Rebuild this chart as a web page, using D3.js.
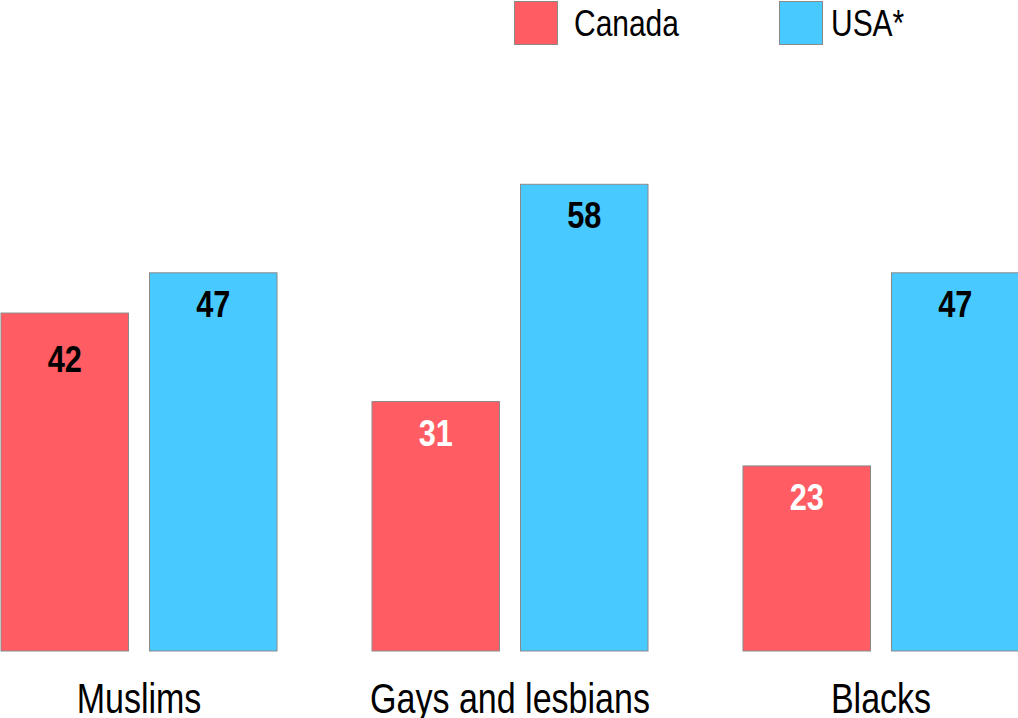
<!DOCTYPE html>
<html>
<head>
<meta charset="utf-8">
<script src="https://cdn.jsdelivr.net/npm/d3@7"></script>
<style>
  body { margin: 0; background: #fff; }
  text { font-family: "Liberation Sans", Arial, sans-serif; }
</style>
</head>
<body>
<div id="chart"></div>
<script>
// data
const groups = ["Muslims", "Gays and lesbians", "Blacks"];
const series = ["Canada", "USA*"];
const canada = [42, 31, 23];
const usa = [47, 58, 47];
const colors = ["#ff5c63", "#48c9ff"];
const labelColors = [["#000", "#fff", "#fff"], ["#000", "#000", "#000"]];

const width = 1018;
const height = 718;
// the original uses a narrow face, so squeeze the text horizontally
const squeeze = 0.81;

const svg = d3.select("#chart")
  .append("svg")
  .attr("width", width)
  .attr("height", height);

//group scale and inner scale
const x0 = d3.scaleBand().domain(groups).range([1, 1019]).paddingInner(0.256).paddingOuter(0);
const x1 = d3.scaleBand().domain(series).range([0, x0.bandwidth()]).paddingInner(0.1414);
const y = d3.scaleLinear().domain([0, 58]).range([651, 184.3]);

const rows = groups.map((g, i) => ({
  group: g,
  values: [
    { key: series[0], value: canada[i], s: 0, i: i },
    { key: series[1], value: usa[i], s: 1, i: i }
  ]
}));

const g = svg.selectAll(".group")
  .data(rows)
  .enter()
  .append("g")
  .attr("class", "group")
  .attr("transform", d => "translate(" + x0(d.group) + ",0)");

g.selectAll("rect")
  .data(d => d.values)
  .enter()
  .append("rect")
  .attr("x", d => x1(d.key))
  .attr("y", d => y(d.value))
  .attr("width", x1.bandwidth())
  .attr("height", d => y(0) - y(d.value))
  .attr("fill", d => colors[d.s])
  .attr("stroke", "#8a8a8a")
  .attr("stroke-width", 1);

// value labels (the first Canada label sits a bit lower in the original)
g.selectAll(".val")
  .data(d => d.values)
  .enter()
  .append("text")
  .attr("class", "val")
  .attr("transform", d => "translate(" + (x1(d.key) + x1.bandwidth() / 2) + "," +
    (y(d.value) + (d.s === 0 && d.i === 0 ? 58.5 : 44)) + ") scale(0.83,1)")
  .attr("text-anchor", "middle")
  .attr("font-size", 37)
  .attr("font-weight", 700)
  .attr("fill", d => labelColors[d.s][d.i])
  .text(d => d.value);

// category axis
const xAxis = d3.axisBottom(x0).tickSize(0).tickPadding(0);
const ax = svg.append("g")
  .attr("transform", "translate(0,712.5)")
  .call(xAxis);
ax.select(".domain").remove();
ax.selectAll("text")
  .attr("y", 0)
  .attr("dy", 0)
  .attr("transform", "scale(" + squeeze + ",1)")
  .attr("font-size", 42)
  .attr("fill", "#000")
  .style("font-family", "'Liberation Sans', Arial, sans-serif");

// legend
const legendX = d3.scaleOrdinal().domain(series).range([514.5, 779.5]);
const lg = svg.selectAll(".legend")
  .data(series)
  .enter()
  .append("g")
  .attr("class", "legend")
  .attr("transform", d => "translate(" + legendX(d) + ",1.5)");
lg.append("rect")
  .attr("width", 43)
  .attr("height", 43)
  .attr("fill", (d, i) => colors[i])
  .attr("stroke", "#8a8a8a");
lg.append("text")
  .attr("transform", (d, i) => "translate(" + (i === 0 ? 59.5 : 51.5) + ",34.5) scale(" + squeeze + ",1)")
  .attr("font-size", 37)
  .attr("fill", "#000")
  .text(d => d);
</script>
</body>
</html>
